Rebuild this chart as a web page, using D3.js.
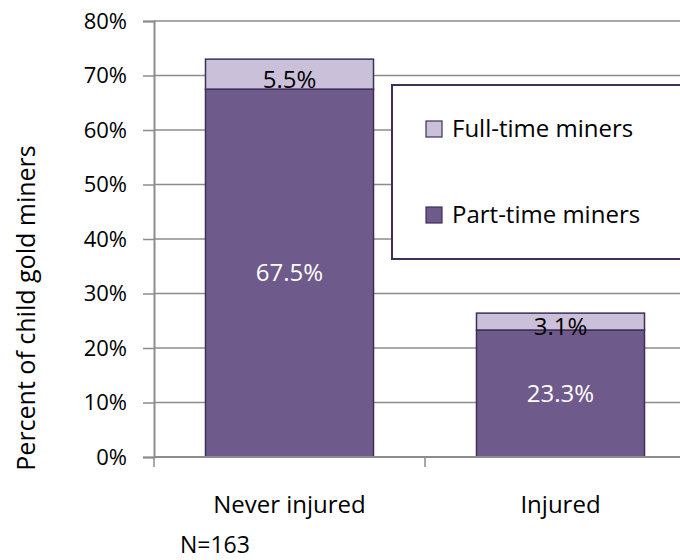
<!DOCTYPE html>
<html>
<head>
<meta charset="utf-8">
<script src="https://cdn.jsdelivr.net/npm/d3@7"></script>
<style>
  body { margin: 0; background: #fff; }
  svg text { font-family: "Open Sans", "Liberation Sans", sans-serif; }
</style>
</head>
<body>
<div id="chart"></div>
<script>
// data
var categories = ["Never injured", "Injured"];
var partTime = [0.675, 0.233];
var fullTime = [0.055, 0.031];
var seriesNames = ["Full-time miners", "Part-time miners"];
var yTicks = [0, 0.1, 0.2, 0.3, 0.4, 0.5, 0.6, 0.7, 0.8];

var width = 680,
    height = 560;

var dark = "#6f5a8c",
    light = "#cbc0da",
    edge = "#3e2f58",
    grid = "#8c8c8c";

var svg = d3.select("#chart").append("svg")
    .attr("width", width)
    .attr("height", height);

var x = d3.scaleBand()
    .domain(categories)
    .range([154, 696])
    .paddingInner(0.38)
    .paddingOuter(0.19);

var y = d3.scaleLinear()
    .domain([0, 0.8])
    .range([457, 21]);

// gridlines
svg.append("g")
    .selectAll("line")
    .data(yTicks.slice(1))
    .enter().append("line")
    .attr("x1", 154).attr("x2", width)
    .attr("y1", function(d){ return y(d); })
    .attr("y2", function(d){ return y(d); })
    .attr("stroke", grid)
    .attr("stroke-width", 1.5);

var rows = categories.map(function(c, i){
    return { cat: c, part: partTime[i], full: fullTime[i] };
});

var stack = d3.stack().keys(["part", "full"]);
var layers = stack(rows);
var fills = { part: dark, full: light };

svg.append("g")
    .selectAll("g")
    .data(layers)
    .enter().append("g")
    .attr("fill", function(d){ return fills[d.key]; })
    .selectAll("rect")
    .data(function(d){ return d; })
    .enter().append("rect")
    .attr("x", function(d){ return x(d.data.cat); })
    .attr("width", x.bandwidth())
    .attr("y", function(d){ return y(d[1]); })
    .attr("height", function(d){ return y(d[0]) - y(d[1]); })
    .attr("stroke", edge)
    .attr("stroke-width", 1.5);

// value labels
var fmt = function(v){ return (v * 100).toFixed(1) + "%"; };

svg.append("g")
    .selectAll("text")
    .data(rows)
    .enter().append("text")
    .attr("x", function(d){ return x(d.cat) + x.bandwidth() / 2; })
    .attr("y", function(d){ return y(d.part / 2); })
    .attr("dy", "0.35em")
    .attr("text-anchor", "middle")
    .attr("fill", "#fff")
    .style("font-size", "24px")
    .text(function(d){ return fmt(d.part); });

svg.append("g")
    .selectAll("text")
    .data(rows)
    .enter().append("text")
    .attr("x", function(d){ return x(d.cat) + x.bandwidth() / 2; })
    .attr("y", function(d){ return y(d.part + d.full / 2) + 5; })
    .attr("dy", "0.35em")
    .attr("text-anchor", "middle")
    .attr("fill", "#000")
    .style("font-size", "24px")
    .text(function(d){ return fmt(d.full); });

// y axis
var yAxis = d3.axisLeft(y)
    .tickValues(yTicks)
    .tickFormat(d3.format(".0%"))
    .tickSize(11)
    .tickPadding(16);

var ya = svg.append("g")
    .attr("transform", "translate(154,0)")
    .call(yAxis);
ya.select(".domain").attr("stroke", grid).attr("stroke-width", 2);
ya.selectAll(".tick line").attr("stroke", grid).attr("stroke-width", 1.5);
ya.selectAll(".tick text")
    .attr("fill", "#000")
    .style("font-size", "22px");

// x axis
svg.append("line")
    .attr("x1", 154).attr("x2", width)
    .attr("y1", y(0)).attr("y2", y(0))
    .attr("stroke", grid).attr("stroke-width", 2);

svg.append("g")
    .selectAll("line")
    .data([x.range()[0], x.range()[0] + x.step()])
    .enter().append("line")
    .attr("x1", function(d){ return d; })
    .attr("x2", function(d){ return d; })
    .attr("y1", y(0)).attr("y2", y(0) + 10)
    .attr("stroke", grid).attr("stroke-width", 1.5);

svg.append("g")
    .selectAll("text")
    .data(categories)
    .enter().append("text")
    .attr("x", function(d){ return x(d) + x.bandwidth() / 2; })
    .attr("y", 505)
    .attr("dy", "0.35em")
    .attr("text-anchor", "middle")
    .style("font-size", "24px")
    .text(function(d){ return d; });

svg.append("text")
    .attr("x", 180)
    .attr("y", 553)
    .style("font-size", "23px")
    .text("N=163");

// y title
svg.append("text")
    .attr("transform", "translate(35,308) rotate(-90)")
    .attr("text-anchor", "middle")
    .style("font-size", "25px")
    .text("Percent of child gold miners");

// legend
var legend = svg.append("g");
legend.append("rect")
    .attr("x", 392).attr("y", 85)
    .attr("width", 300).attr("height", 174)
    .attr("fill", "#fff")
    .attr("stroke", edge)
    .attr("stroke-width", 2);

var legendFills = [light, dark];
var li = legend.selectAll(".item")
    .data(seriesNames)
    .enter().append("g")
    .attr("class", "item")
    .attr("transform", function(d, i){ return "translate(426," + (121 + i * 86) + ")"; });

li.append("rect")
    .attr("width", 16).attr("height", 16)
    .attr("fill", function(d, i){ return legendFills[i]; })
    .attr("stroke", edge)
    .attr("stroke-width", 1.2);

li.append("text")
    .attr("x", 26)
    .attr("y", 8)
    .attr("dy", "0.35em")
    .style("font-size", "24px")
    .text(function(d){ return d; });
</script>
</body>
</html>
